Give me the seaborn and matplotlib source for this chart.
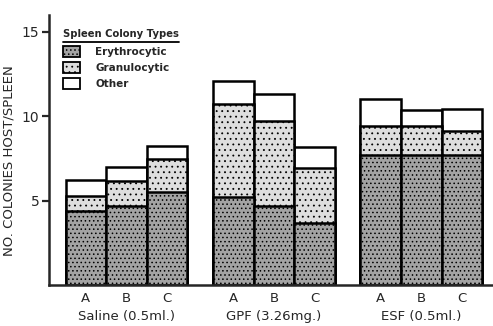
import numpy as np
import pandas as pd
import matplotlib
matplotlib.use('Agg')
import matplotlib.pyplot as plt
import seaborn as sns
from matplotlib.patches import Patch

groups = ['Saline (0.5ml.)', 'GPF (3.26mg.)', 'ESF (0.5ml.)']
samples = ['A', 'B', 'C']
erythrocytic = [4.4, 4.7, 5.5, 5.2, 4.7, 3.65, 7.7, 7.7, 7.7]
granulocytic = [0.9, 1.45, 1.95, 5.5, 5.0, 3.3, 1.75, 1.7, 1.45]
other = [0.9, 0.85, 0.8, 1.4, 1.6, 1.2, 1.55, 1.0, 1.3]

sns.set_theme(style='ticks')
plt.rcParams['font.family'] = ['DejaVu Sans']
plt.rcParams['hatch.linewidth'] = 0.6

ERY_FC, ERY_H = '#a3a3a3', '....'
GRAN_FC, GRAN_H = '#dedede', '...'

# bar centres: three touching bars per group, gap between groups
group_step = 3.63
pos = [g * group_step + b for g in range(len(groups)) for b in range(len(samples))]

df = pd.DataFrame({
    'pos': pos,
    'sample': samples * len(groups),
    'ery': erythrocytic,
    'gran': granulocytic,
    'other': other,
})
df['ery_gran'] = df['ery'] + df['gran']
df['total'] = df['ery_gran'] + df['other']

fig = plt.figure(figsize=(4.93, 3.26), dpi=100)
ax = fig.add_axes([0.0994, 0.1258, 0.90, 0.828])

layers = [
    ('total', 'white', None),
    ('ery_gran', GRAN_FC, GRAN_H),
    ('ery', ERY_FC, ERY_H),
]
for col, fc, hatch in layers:
    sns.barplot(data=df, x='pos', y=col, native_scale=True, width=1.0,
                color=fc, saturation=1, edgecolor='black', linewidth=1.8,
                errorbar=None, ax=ax)
    if hatch:
        for bar in ax.patches[-len(df):]:
            bar.set_hatch(hatch)

ax.set_xlim(-0.91, 10.02)
ax.set_ylim(0, 16.0)
ax.set_yticks([5, 10, 15])
ax.set_yticklabels(['5', '10', '15'], fontsize=10)
ax.set_xticks(df['pos'])
ax.set_xticklabels(df['sample'], fontsize=9.5)
ax.tick_params(axis='x', length=0, pad=5)
ax.tick_params(axis='y', length=5, width=1.6, direction='out', pad=2)
for s in ['top', 'right']:
    ax.spines[s].set_visible(False)
for s in ['left', 'bottom']:
    ax.spines[s].set_linewidth(1.8)
ax.set_xlabel('')
ax.set_ylabel('NO. COLONIES HOST/SPLEEN', fontsize=9.5)
ax.yaxis.set_label_coords(-0.075, 0.46)

for g, name in enumerate(groups):
    ax.text(g * group_step + 1, -0.13, name, transform=ax.get_xaxis_transform(),
            ha='center', va='baseline', fontsize=9.5)

# legend: title with underline, then entries
ax.text(0.0315, 0.93, 'Spleen Colony Types', transform=ax.transAxes,
        ha='left', va='center', fontsize=7.2, fontweight='bold')
ax.plot([0.0315, 0.293], [0.9, 0.9], transform=ax.transAxes,
        color='black', linewidth=1.3, clip_on=False)
handles = [
    Patch(facecolor=ERY_FC, edgecolor='black', hatch=ERY_H, linewidth=1.3),
    Patch(facecolor=GRAN_FC, edgecolor='black', hatch=GRAN_H, linewidth=1.3),
    Patch(facecolor='white', edgecolor='black', linewidth=1.3),
]
leg = ax.legend(handles, ['Erythrocytic', 'Granulocytic', 'Other'],
                loc='upper left', bbox_to_anchor=(0.0315, 0.885),
                borderpad=0, borderaxespad=0, frameon=False, fontsize=7.5,
                handlelength=1.6, handleheight=1.2, handletextpad=1.5,
                labelspacing=0.5)
for t in leg.get_texts():
    t.set_fontweight('bold')

fig.savefig('out.png', dpi=100)
